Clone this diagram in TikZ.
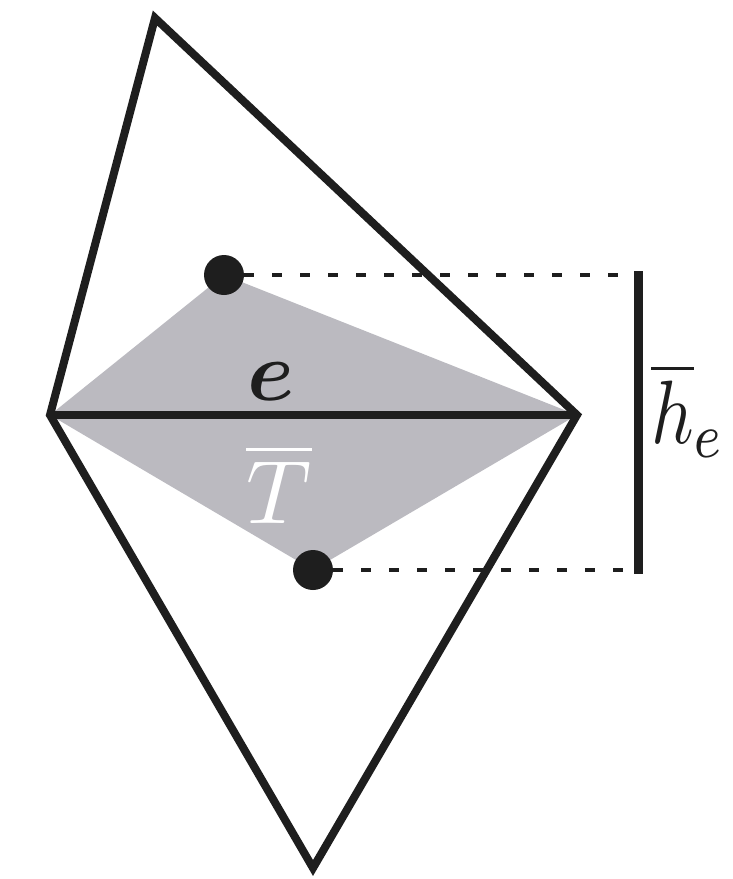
\documentclass[tikz,border=0pt]{standalone}
\usepackage{graphicx}
\usepackage{amsmath,bm}
\definecolor{greyfill}{RGB}{187,186,192}
\definecolor{ink}{RGB}{30,30,30}
\newcommand{\bigtxt}[1]{\scalebox{9.5}{#1}}
\begin{document}
\begin{tikzpicture}[x=1pt,y=-1pt,
  edge/.style={draw=ink,line width=8pt,line join=miter},
  dot/.style={circle,fill=ink,minimum size=40pt,inner sep=0pt},
  dashline/.style={draw=ink,line width=4pt,dash pattern=on 10pt off 18pt},
  bar/.style={draw=ink,line width=9pt},
  lbl/.style={inner sep=0pt}]
\useasboundingbox (0,0) rectangle (733,879);
\coordinate (L) at (50,415);
\coordinate (R) at (577,415);
\coordinate (Tp) at (155,18);
\coordinate (B) at (313,868);
\coordinate (P) at (224,275);
\coordinate (Q) at (313,570);
\fill[greyfill] (L) -- (P) -- (R) -- (Q) -- cycle;
\draw[edge] (L) -- (Tp) -- (R) -- (B) -- cycle;
\draw[edge] (L) -- (R);
\node[dot] (p) at (P) {};
\node[dot] (q) at (Q) {};
\coordinate (bt) at (638,271);
\coordinate (bb) at (638,574);
\draw[dashline] (p.east) -- (p.east -| bt) ;
\draw[dashline] (q.east) -- (q.east -| bb);
\draw[bar] (bt) -- (bb);
\node[lbl,text=ink] (e) at (271,382) {\scalebox{8.5}{$\bm{e}$}};
\node[lbl,text=white] (t) at (279,484) {\scalebox{9}{$\overline{T}$}};
\node[lbl,text=ink,anchor=west] (h) at (651,410) {\scalebox{7.4}[9]{$\overline{h}_e$}};
\end{tikzpicture}
\end{document}
